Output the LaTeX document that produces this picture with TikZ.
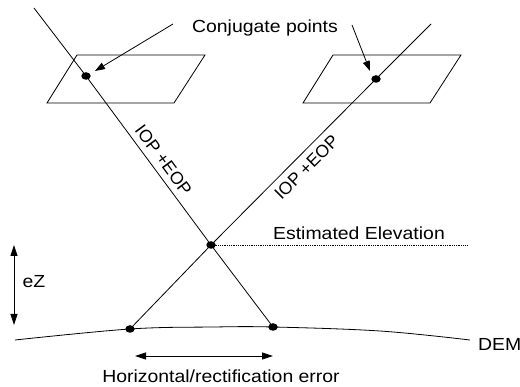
\documentclass[tikz,border=0pt]{standalone}
\usepackage{fontspec}
\usepackage{graphicx}
\setmainfont{Liberation Sans}
\usetikzlibrary{arrows.meta,shapes.geometric}
\newcommand{\hs}[1]{\scalebox{1.11}[1]{#1}}
\begin{document}
\begin{tikzpicture}[x=1pt,y=-1pt,
  every node/.style={font=\fontsize{17.5}{20}\selectfont},
  thinline/.style={line width=0.8pt,black},
  dot/.style={ellipse,fill=black,inner sep=0pt,minimum width=9.5pt,minimum height=7.5pt},
  tip/.style={-{Triangle[length=10pt,width=7pt]}},
  dtip/.style={{Triangle[length=11pt,width=7pt]}-{Triangle[length=11pt,width=7pt]}},
  lbl/.style={inner sep=1pt}]
\useasboundingbox (0,0) rectangle (520,387);
% parallelograms
\draw[thinline] (77,55) -- (205,55) -- (174,103) -- (47,103) -- cycle;
\draw[thinline] (333,55) -- (461,55) -- (430,103) -- (303,103) -- cycle;
% dots
\node[dot] (p1) at (86,76) {};
\node[dot] (p2) at (376,79) {};
\node[dot] (c) at (211,245) {};
\node[dot] (d1) at (130,329) {};
\node[dot] (d2) at (273,327) {};
\coordinate (L0) at (34,8);
\coordinate (R0) at (431,24);
% rays
\draw[thinline] (L0) -- (p1.center) -- (c.center) -- (d2.center);
\draw[thinline] (R0) -- (p2.center) -- (c.center) -- (d1.center);
% DEM curve
\draw[thinline] plot[smooth,tension=0.6] coordinates {(15,340) (130,329) (213,327) (273,327) (380,331) (470,340)};
% estimated elevation
\coordinate (E1) at (468,245);
\draw[line width=0.8pt,densely dotted] (c.center) -- (E1);
\node[lbl] (est) at (359,233) {\hs{Estimated Elevation}};
% conjugate points
\node[lbl] (conj) at (265,28) {\hs{Conjugate points}};
\coordinate (a1s) at (173,24);
\coordinate (a1e) at (95,71);
\coordinate (a2s) at (352,25);
\coordinate (a2e) at (370,71);
\draw[thinline,tip] (a1s) -- (a1e);
\draw[thinline,tip] (a2s) -- (a2e);
% IOP labels
\node[lbl,inner sep=0pt,rotate=-53.5] (iop1) at (163.5,160) {IOP +EOP};
\node[lbl,inner sep=0pt,rotate=45] (iop2) at (306.5,167.5) {IOP +EOP};
% eZ
\coordinate (z1) at (14,245);
\coordinate (z2) at (14,325);
\draw[thinline,dtip] (z1) -- (z2);
\node[lbl] (ez) at (34,282) {\hs{eZ}};
% DEM
\node[lbl,anchor=west] (dem) at (477,344) {\hs{DEM}};
% horizontal error
\coordinate (h1) at (135,356);
\coordinate (h2) at (273,356);
\draw[thinline,dtip] (h1) -- (h2);
\node[lbl] (herr) at (221,376) {\hs{Horizontal/rectification error}};
\end{tikzpicture}
\end{document}
